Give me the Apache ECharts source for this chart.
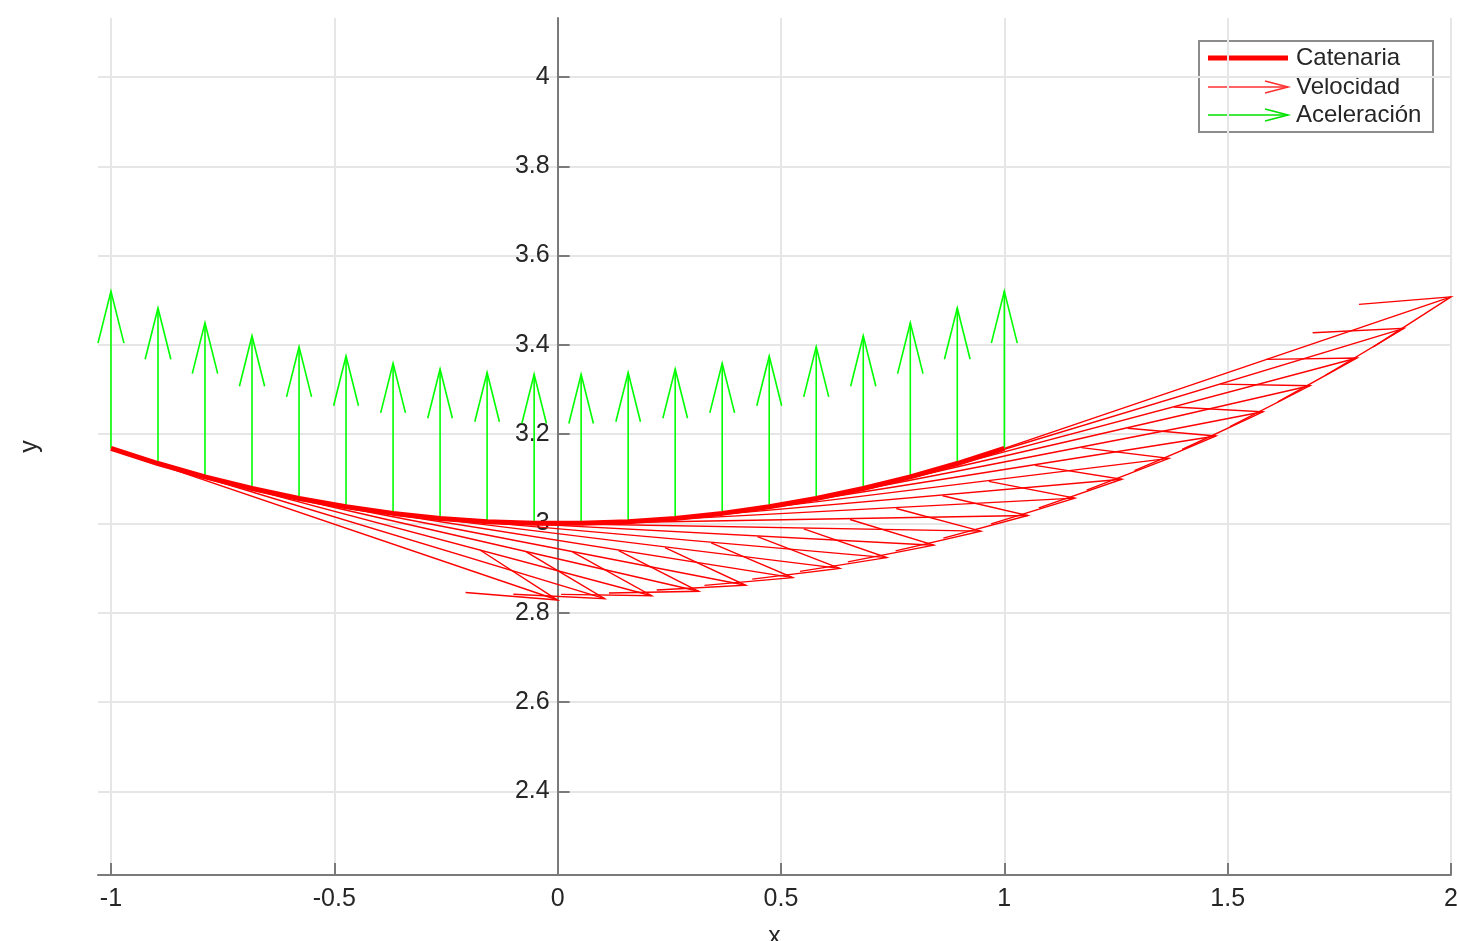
<!DOCTYPE html>
<html><head><meta charset="utf-8">
<script src="https://cdn.jsdelivr.net/npm/echarts@6/dist/echarts.min.js"></script>
<style>html,body{margin:0;padding:0;background:#fff}#c{width:1457px;height:941px}</style>
</head><body><div id="c"></div>
<script>
// ---- data ----
const xTicks = [-1, -0.5, 0, 0.5, 1, 1.5, 2];
const yTicks = [2.4, 2.6, 2.8, 3, 3.2, 3.4, 3.6, 3.8, 4];
const xPts = [-1, -0.8947, -0.7895, -0.6842, -0.5789, -0.4737, -0.3684, -0.2632, -0.1579, -0.0526,
              0.0526, 0.1579, 0.2632, 0.3684, 0.4737, 0.5789, 0.6842, 0.7895, 0.8947, 1];
const yPts = [3.1682, 3.1344, 3.1045, 3.0784, 3.0560, 3.0375, 3.0227, 3.0115, 3.0042, 3.0005,
              3.0005, 3.0042, 3.0115, 3.0227, 3.0375, 3.0560, 3.0784, 3.1045, 3.1344, 3.1682];
const velX = [1, 1, 1, 1, 1, 1, 1, 1, 1, 1, 1, 1, 1, 1, 1, 1, 1, 1, 1, 1];
const velY = [-0.3395, -0.3027, -0.2662, -0.2301, -0.1942, -0.1585, -0.1231, -0.0878, -0.0527, -0.0176,
              0.0176, 0.0527, 0.0878, 0.1231, 0.1585, 0.1942, 0.2301, 0.2662, 0.3027, 0.3395];
const accX = [0, 0, 0, 0, 0, 0, 0, 0, 0, 0, 0, 0, 0, 0, 0, 0, 0, 0, 0, 0];
const accY = [0.3520, 0.3483, 0.3449, 0.3420, 0.3396, 0.3375, 0.3359, 0.3346, 0.3338, 0.3334,
              0.3334, 0.3338, 0.3346, 0.3359, 0.3375, 0.3396, 0.3420, 0.3449, 0.3483, 0.3520];
const seriesNames = ['Catenaria', 'Velocidad', 'Aceleración'];

// ---- chart ----
const chart = echarts.init(document.getElementById('c'), null, {renderer: 'canvas'});
const FONT = 'Liberation Sans, Arial, sans-serif';
const TXT = '#262626';
const X_MIN = -1.029, X_MAX = 2, Y_MIN = 2.213, Y_MAX = 4.132;
const GRID = {left: 98, right: 6, top: 18, bottom: 66};
const gridW = 1457 - GRID.left - GRID.right;
// y axis drawn at x = 0 (MATLAB "origin" location)
const yAxisOffset = -((0 - X_MIN) / (X_MAX - X_MIN)) * gridW;

function arrowRender(alpha, beta, color, width) {
  return function (params, api) {
    const x = api.value(0), y = api.value(1), u = api.value(2), v = api.value(3);
    const tip = [x + u, y + v];
    const h1 = [x + u - alpha * (u + beta * v), y + v - alpha * (v - beta * u)];
    const h2 = [x + u - alpha * (u - beta * v), y + v - alpha * (v + beta * u)];
    const p0 = api.coord([x, y]), p1 = api.coord(tip);
    const q1 = api.coord(h1), q2 = api.coord(h2);
    const st = {stroke: color, lineWidth: width, fill: null};
    return {type: 'group', children: [
      {type: 'polyline', shape: {points: [p0, p1]}, style: st},
      {type: 'polyline', shape: {points: [q1, p1, q2]}, style: st}
    ]};
  };
}

const catData = xPts.map((x, i) => [x, yPts[i]]);
const velData = xPts.map((x, i) => [x, yPts[i], velX[i], velY[i]]);
const accData = xPts.map((x, i) => [x, yPts[i], accX[i], accY[i]]);

const lineSt = {color: '#7a7a7a', width: 2};
const labelSt = {color: TXT, fontFamily: FONT, fontSize: 25};

const option = {
  backgroundColor: '#fff',
  animation: false,
  grid: Object.assign({containLabel: false, outerBoundsMode: 'none'}, GRID),
  xAxis: {
    type: 'value', min: X_MIN, max: X_MAX,
    name: 'x', nameLocation: 'middle', nameGap: 50, nameTextStyle: labelSt,
    axisLine: {show: true, onZero: false, lineStyle: lineSt},
    axisTick: {show: true, inside: true, length: 12, lineStyle: lineSt, customValues: xTicks},
    splitLine: {show: true, lineStyle: {color: '#e6e6e6', width: 2}},
    axisLabel: Object.assign({customValues: xTicks, margin: 12, formatter: v => String(v)}, labelSt)
  },
  yAxis: {
    type: 'value', min: Y_MIN, max: Y_MAX, position: 'left', offset: yAxisOffset,
    name: 'y', nameLocation: 'middle', nameGap: 515, nameTextStyle: labelSt,
    axisLine: {show: true, onZero: false, lineStyle: lineSt},
    axisTick: {show: true, inside: true, length: 12, lineStyle: lineSt, customValues: yTicks},
    splitLine: {show: true, lineStyle: {color: '#e6e6e6', width: 2}},
    axisLabel: Object.assign({customValues: yTicks, margin: 8, formatter: v => String(v)}, labelSt)
  },
  series: [
    {name: seriesNames[0], type: 'line', data: catData, showSymbol: false, symbol: 'none',
     lineStyle: {color: '#ff0000', width: 5}, itemStyle: {color: '#ff0000'}, z: 4},
    {name: seriesNames[1], type: 'custom', data: velData, encode: {x: 0, y: 1},
     renderItem: arrowRender(0.19, 0.25, '#ff0000', 1.4), clip: false, z: 3},
    {name: seriesNames[2], type: 'custom', data: accData, encode: {x: 0, y: 1},
     renderItem: arrowRender(0.33, 0.25, '#00ff00', 1.6), clip: false, z: 3}
  ],
  graphic: [
    {type: 'group', left: 1198, top: 40, z: 100, children: [
      {type: 'rect', shape: {x: 0, y: 0, width: 234, height: 91},
       style: {fill: '#fff', stroke: '#8c8c8c', lineWidth: 2}},
      {type: 'line', shape: {x1: 9, y1: 17, x2: 89, y2: 17}, style: {stroke: '#ff0000', lineWidth: 5}},
      {type: 'line', shape: {x1: 9, y1: 46, x2: 89, y2: 46}, style: {stroke: '#ff3030', lineWidth: 1.6}},
      {type: 'polyline', shape: {points: [[66, 40], [89, 46], [66, 52]]}, style: {stroke: '#ff3030', lineWidth: 1.6, fill: null}},
      {type: 'line', shape: {x1: 9, y1: 74, x2: 89, y2: 74}, style: {stroke: '#00e000', lineWidth: 1.6}},
      {type: 'polyline', shape: {points: [[66, 68], [89, 74], [66, 80]]}, style: {stroke: '#00e000', lineWidth: 1.6, fill: null}},
      {type: 'text', x: 97, y: 17, style: {text: seriesNames[0], fill: TXT, font: '24px ' + FONT, verticalAlign: 'middle'}},
      {type: 'text', x: 97, y: 46, style: {text: seriesNames[1], fill: TXT, font: '24px ' + FONT, verticalAlign: 'middle'}},
      {type: 'text', x: 97, y: 74, style: {text: seriesNames[2], fill: TXT, font: '24px ' + FONT, verticalAlign: 'middle'}}
    ]}
  ]
};
chart.setOption(option);
</script>
</body></html>
